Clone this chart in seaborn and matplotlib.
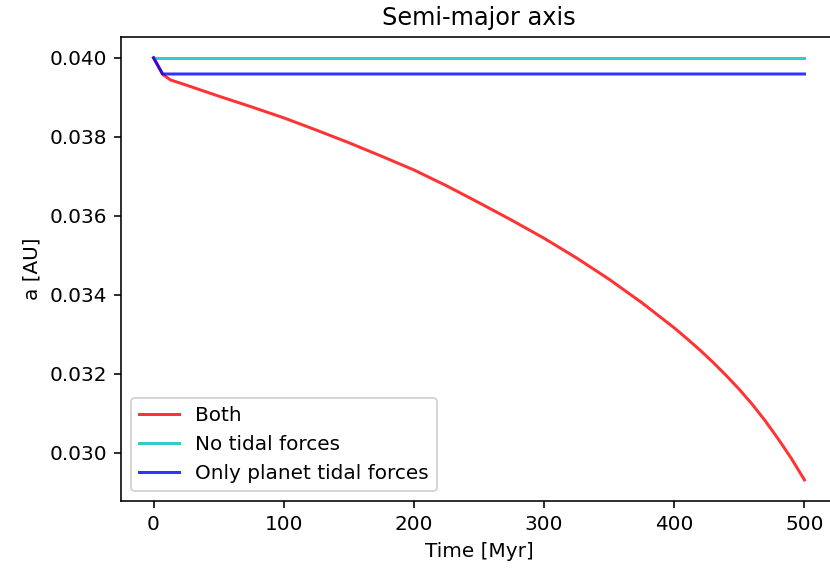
import matplotlib
matplotlib.use("Agg")
import matplotlib.pyplot as plt
import seaborn as sns
import pandas as pd

# Data
time_both = [0, 7, 13, 25, 50, 75, 100, 125, 150, 175, 200, 225, 250, 275, 300,
             325, 350, 375, 400, 410, 420, 430, 440, 450, 460, 470, 480, 490, 500]
a_both = [0.04000, 0.03958, 0.03944, 0.03931, 0.03903, 0.03876, 0.03848, 0.03817,
          0.03785, 0.03751, 0.03716, 0.03676, 0.03633, 0.03589, 0.03543, 0.03493,
          0.03439, 0.03380, 0.03316, 0.03288, 0.03259, 0.03228, 0.03195, 0.03160,
          0.03122, 0.03080, 0.03034, 0.02985, 0.02931]

time_none = [0, 7, 500]
a_none = [0.04000, 0.04000, 0.04000]

time_planet = [0, 7, 500]
a_planet = [0.04000, 0.03959, 0.03959]

labels = ["Both", "No tidal forces", "Only planet tidal forces"]
colors = ["r", "c", "b"]

fig = plt.figure(figsize=(830 / 144, 573 / 144), dpi=144)
ax = fig.add_axes([121 / 830, 1 - 501 / 573, (837 - 121) / 830, (501 - 36.7) / 573])

series = [(time_both, a_both), (time_none, a_none), (time_planet, a_planet)]
for (t, a), lab, col in zip(series, labels, colors):
    df = pd.DataFrame({"t": t, "a": a})
    sns.lineplot(data=df, x="t", y="a", color=col, alpha=0.8, linewidth=1.5,
                 label=lab, ax=ax)

ax.set_xticks([0, 100, 200, 300, 400, 500])
ax.set_yticks([0.030, 0.032, 0.034, 0.036, 0.038, 0.040])
ax.set_title("Semi-major axis")
ax.set_xlabel("Time [Myr]")
ax.set_ylabel("a [AU]")
ax.legend(loc="lower left")

fig.savefig("out.png", dpi=144)
